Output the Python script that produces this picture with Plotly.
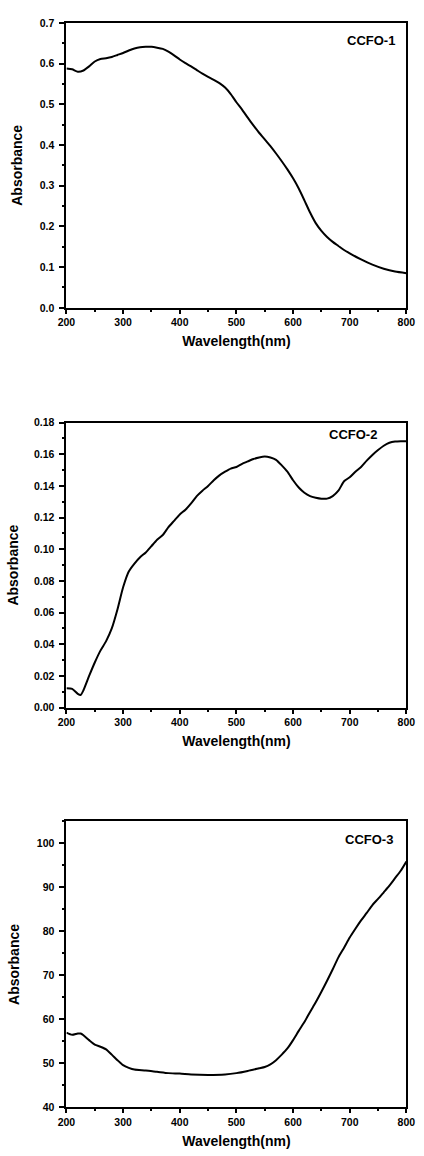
import plotly.graph_objects as go

# ---------------- data ----------------
wl1 = [200, 210, 220, 230, 240, 250, 260, 270, 280, 290, 300, 310, 320, 330, 340,
       350, 360, 370, 380, 390, 400, 410, 420, 430, 440, 450, 460, 470, 480, 490,
       500, 510, 520, 530, 540, 550, 560, 570, 580, 590, 600, 610, 620, 630, 640,
       650, 660, 670, 680, 690, 700, 720, 740, 760, 780, 800]
abs1 = [0.588, 0.586, 0.580, 0.583, 0.593, 0.605, 0.611, 0.613, 0.616, 0.621,
        0.626, 0.632, 0.637, 0.640, 0.641, 0.641, 0.639, 0.636, 0.629, 0.620,
        0.610, 0.601, 0.593, 0.584, 0.575, 0.567, 0.560, 0.552, 0.541, 0.525,
        0.505, 0.487, 0.467, 0.448, 0.430, 0.414, 0.397, 0.379, 0.360, 0.340,
        0.318, 0.293, 0.264, 0.234, 0.208, 0.189, 0.174, 0.162, 0.152, 0.142,
        0.134, 0.119, 0.106, 0.096, 0.089, 0.085]

wl2 = [200, 210, 220, 225, 230, 240, 250, 260, 270, 280, 290, 300, 310, 320, 330,
       340, 350, 360, 370, 380, 390, 400, 410, 420, 430, 440, 450, 460, 470, 480,
       490, 500, 510, 520, 530, 540, 550, 560, 570, 580, 590, 600, 610, 620, 630,
       640, 650, 660, 670, 680, 690, 700, 710, 720, 730, 740, 750, 760, 770, 780,
       790, 800]
abs2 = [0.0123, 0.0119, 0.0087, 0.0080, 0.0110, 0.0200, 0.0285, 0.0360, 0.0420,
        0.0500, 0.0620, 0.0760, 0.0860, 0.0910, 0.0950, 0.0980, 0.1020, 0.1060,
        0.1090, 0.1140, 0.1180, 0.1220, 0.1250, 0.1290, 0.1336, 0.1370, 0.1400,
        0.1436, 0.1467, 0.1490, 0.1510, 0.1520, 0.1540, 0.1555, 0.1570, 0.1580,
        0.1586, 0.1580, 0.1565, 0.1530, 0.1490, 0.1436, 0.1390, 0.1357, 0.1336,
        0.1326, 0.1320, 0.1320, 0.1336, 0.1370, 0.1430, 0.1455, 0.1490, 0.1520,
        0.1560, 0.1596, 0.1627, 0.1654, 0.1673, 0.1681, 0.1683, 0.1683]

wl3 = [200, 210, 220, 225, 230, 240, 250, 260, 270, 280, 290, 300, 310, 320, 340,
       360, 380, 400, 420, 450, 480, 500, 520, 540, 550, 560, 570, 580, 590, 600,
       610, 620, 630, 640, 650, 660, 670, 680, 690, 700, 710, 720, 730, 740, 750,
       760, 770, 780, 790, 800]
abs3 = [57.0, 56.5, 56.8, 56.8, 56.4, 55.3, 54.3, 53.8, 53.2, 52.0, 50.75, 49.6,
        49.0, 48.6, 48.4, 48.1, 47.8, 47.7, 47.5, 47.4, 47.5, 47.8, 48.3, 48.9,
        49.2, 49.8, 50.75, 52.0, 53.4, 55.3, 57.4, 59.4, 61.7, 63.9, 66.3, 68.8,
        71.4, 74.1, 76.3, 78.6, 80.6, 82.5, 84.2, 86.0, 87.4, 88.9, 90.4, 92.1,
        93.8, 95.9]

labels = ["CCFO-1", "CCFO-2", "CCFO-3"]
x_title = "Wavelength(nm)"
y_title = "Absorbance"

# ---------------- figure ----------------
W, H = 424, 1156
fig = go.Figure()

series = [(wl1, abs1), (wl2, abs2), (wl3, abs3)]
for i, (xv, yv) in enumerate(series):
    sfx = "" if i == 0 else str(i + 1)
    fig.add_trace(go.Scatter(x=xv, y=yv, mode="lines", xaxis="x" + sfx, yaxis="y" + sfx,
                             line=dict(color="black", width=2, shape="spline", smoothing=0.6),
                             showlegend=False, hoverinfo="skip"))

def px_x(p):
    return p / W

def px_y(p):
    return 1 - p / H

left, right = 60, 415
panels = [  # (top px, bottom px, y range, dtick, minor dtick, tickformat, y-title standoff)
    (17, 305, [0, 0.7], 0.1, 0.05, ".1f", 14),
    (421, 709, [0, 0.18], 0.02, 0.01, ".2f", 12),
    (824, 1113, [40, 105], 10, 5, "d", 14),
]

tick_font = dict(family="Liberation Sans, Arial, sans-serif", size=10.5, color="black", weight="bold")
title_font = dict(family="Liberation Sans, Arial, sans-serif", size=14, color="black", weight="bold")

layout = dict(width=W, height=H, margin=dict(l=0, r=0, t=0, b=0),
              paper_bgcolor="white", plot_bgcolor="white", showlegend=False)

for i, (top, bot, yr, dt, mdt, fmt, ystand) in enumerate(panels):
    sfx = "" if i == 0 else str(i + 1)
    layout["xaxis" + sfx] = dict(
        domain=[px_x(left), px_x(right)], anchor="y" + sfx, range=[200, 800],
        dtick=100, tick0=0, ticks="outside", ticklen=4, tickwidth=1.5, tickcolor="black",
        minor=dict(dtick=50, ticks="outside", ticklen=2, tickwidth=1.5, tickcolor="black"),
        showline=True, linecolor="black", linewidth=2, mirror=True,
        showgrid=False, zeroline=False, tickfont=tick_font,
        title=dict(text=x_title, font=title_font, standoff=9),
    )
    layout["yaxis" + sfx] = dict(
        domain=[px_y(bot), px_y(top)], anchor="x" + sfx, range=yr,
        dtick=dt, tick0=0, ticks="outside", ticklen=5, tickwidth=1.5, tickcolor="black",
        minor=dict(dtick=mdt, ticks="outside", ticklen=2, tickwidth=1.5, tickcolor="black"),
        showline=True, linecolor="black", linewidth=2, mirror=True,
        showgrid=False, zeroline=False, tickfont=tick_font, tickformat=fmt,
        ticklabelstandoff=3,
        title=dict(text=y_title, font=title_font, standoff=ystand),
    )

fig.update_layout(**layout)

label_pos = [(378, 35), (359, 433), (376, 842)]
for txt, (lx, ly) in zip(labels, label_pos):
    fig.add_annotation(text=txt, x=px_x(lx), y=px_y(ly), xref="paper", yref="paper",
                       xanchor="center", yanchor="middle", showarrow=False,
                       font=dict(family="Liberation Sans, Arial, sans-serif", size=13,
                                 color="black", weight="bold"))

fig.write_html("out.html")
